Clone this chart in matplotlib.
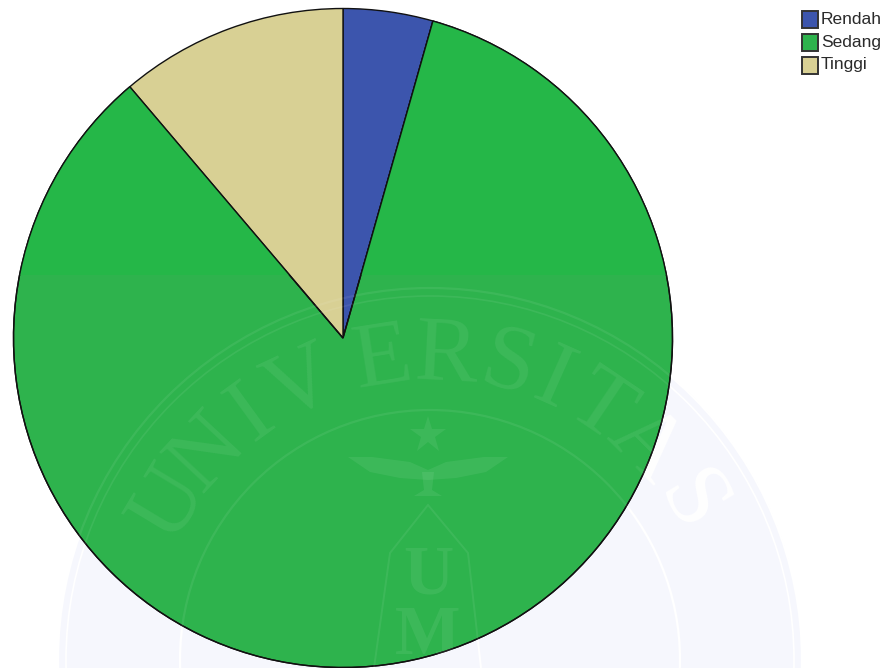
import numpy as np
import matplotlib
matplotlib.use("Agg")
import matplotlib.pyplot as plt
from matplotlib.patches import Circle, Rectangle, Polygon, PathPatch
from matplotlib.transforms import Affine2D

categories = ["Rendah", "Sedang", "Tinggi"]
values = [4.4, 84.4, 11.2]
colors = ["#3c55ad", "#2eb34d", "#d8d094"]

W, H = 888, 668
fig = plt.figure(figsize=(W / 100, H / 100), dpi=100, facecolor="white")
ax = fig.add_axes([0, 0, 1, 1])
ax.axis("off")

cx, cy, r = 343, 338, 329.5
wm_cx, wm_cy = 430, 660
WM_WHITE = (1, 1, 1, 0.07)

wedges, _ = ax.pie(values, colors=colors, startangle=90, counterclock=False,
                   center=(cx, cy), radius=r, frame=False,
                   wedgeprops=dict(edgecolor="#111111", linewidth=1.0, zorder=3))
flip = Affine2D().translate(-cx, -cy).scale(1, -1).translate(cx, cy) + ax.transData
for w in wedges:
    w.set_transform(flip)
ax.set_aspect("equal")
ax.set_xlim(0, W)
ax.set_ylim(H, 0)

# brighter green scan band in the upper part of the large slice
band = Rectangle((0, 0), W, 275, facecolor="#25b748", edgecolor="none", zorder=3.1)
ax.add_patch(band)
band.set_clip_path(wedges[1].get_path(), wedges[1].get_transform())
outline = PathPatch(wedges[1].get_path(), fill=False, edgecolor="#111111",
                    linewidth=1.0, transform=wedges[1].get_transform(), zorder=3.2)
ax.add_patch(outline)

# faint watermark: tinted disc and white rings behind the pie, light overlay on it
ax.add_patch(Circle((wm_cx, wm_cy), 372, facecolor="#f6f7fd", edgecolor="none", zorder=0.5))
for rad, lw in [(372, 1.6), (364, 1.2), (250, 1.6)]:
    ax.add_patch(Circle((wm_cx, wm_cy), rad, fill=False, edgecolor="white", linewidth=lw, zorder=1))
    ax.add_patch(Circle((wm_cx, wm_cy), rad, fill=False, edgecolor=WM_WHITE, linewidth=lw, zorder=4))

word = "UNIVERSITAS"
angles = [-59, -47, -36, -25, -9, 3, 15, 24, 34, 45, 59]
for ch, a in zip(word, angles):
    t = np.deg2rad(a)
    x, y = wm_cx + 303 * np.sin(t), wm_cy - 303 * np.cos(t)
    for col, z in [("white", 1), (WM_WHITE, 4)]:
        ax.text(x, y, ch, rotation=-a, rotation_mode="anchor", ha="center", va="center",
                fontsize=68, family="Liberation Serif", color=col, zorder=z)

# crest
ax.plot([428], [435], marker="*", markersize=28, markeredgewidth=0, color=WM_WHITE, zorder=4)
wing_l = [(348, 457), (372, 457), (410, 462), (428, 470), (428, 480), (400, 478), (370, 472)]
wing_r = [(2 * 428 - x, y) for x, y in wing_l]
body = [(422, 472), (434, 472), (432, 490), (442, 496), (414, 496), (424, 490)]
for pts in (wing_l, wing_r, body):
    ax.add_patch(Polygon(pts, closed=True, facecolor=WM_WHITE, edgecolor="none", zorder=4))
pencil = [(374, 668), (390, 553), (428, 505), (468, 553), (481, 668)]
ax.add_patch(Polygon(pencil, closed=False, fill=False, edgecolor="white", linewidth=1.4, zorder=1))
ax.add_patch(Polygon(pencil, closed=False, fill=False, edgecolor=WM_WHITE, linewidth=1.4, zorder=4))
for ch, y in [("U", 577), ("M", 637)]:
    ax.text(428, y, ch, ha="center", va="center", fontsize=50, family="Liberation Serif",
            color=WM_WHITE, zorder=4, fontweight="bold")

# legend
ly = [19, 42, 65]
for name, col, y in zip(categories, colors, ly):
    ax.add_patch(Rectangle((802, y - 8.5), 16, 17, facecolor=col, edgecolor="#333333",
                           linewidth=1.4, zorder=5))
    ax.text(821, y, name, fontsize=12.5, family="Liberation Sans", va="center", ha="left",
            color="#2a2a2a", zorder=5)

fig.savefig("out.png", dpi=100)
